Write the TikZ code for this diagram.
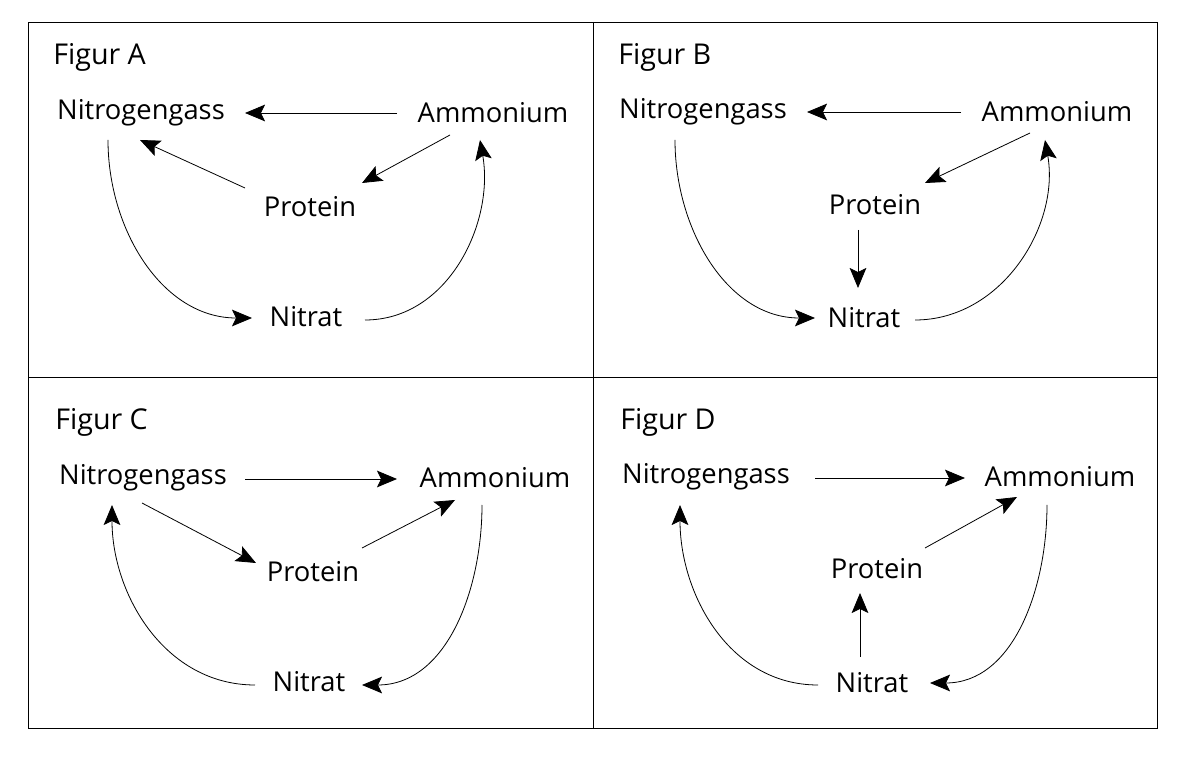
\documentclass[tikz,border=0pt]{standalone}
\usepackage{fontspec}
\setmainfont{Open Sans}
\usetikzlibrary{arrows.meta, calc}

\begin{document}
\begin{tikzpicture}[
    x=0.75pt, y=-0.75pt,
    chem/.style  = {font=\fontsize{20.5}{24}\selectfont, inner sep=0pt},
    title/.style = {font=\fontsize{21.5}{25}\selectfont, anchor=west, inner sep=0pt},
    edge/.style  = {-{Stealth[length=15pt, width=12.5pt, inset=3pt]}, semithick}
  ]
    \useasboundingbox (0,0) rectangle (1183,766);
    \draw (28,22) rectangle (1157,728);
    \draw (593,22) -- (593,728);
    \draw (28,377) -- (1157,377);

    % Figur A
    \node[title] (tA) at (53,57) {Figur A};
    \node[chem] (nA) at (141,113) {Nitrogengass};
    \node[chem] (aA) at (493,113) {Ammonium};
    \node[chem] (pA) at (310,207) {Protein};
    \node[chem] (xA) at (306,317) {Nitrat};
    \draw[edge] ($(aA)+(-96,0)$) -- ($(nA)+(104,0)$);
    \draw[edge] ($(pA)+(-65,-19)$) -- ($(nA)+(-1,27)$);
    \draw[edge] ($(aA)+(-43,22)$) -- ($(pA)+(52,-24)$);
    \draw[edge] ($(nA)+(-33,27)$) to[out=-90, in=180] ($(xA)+(-54,1)$);
    \draw[edge] ($(xA)+(59,3)$) to[out=0, in=-80] ($(aA)+(-13,27)$);

    % Figur B
    \node[title] (tB) at (618,57) {Figur B};
    \node[chem] (nB) at (703,112) {Nitrogengass};
    \node[chem] (aB) at (1057,112) {Ammonium};
    \node[chem] (pB) at (875,205) {Protein};
    \node[chem] (xB) at (864,318) {Nitrat};
    \draw[edge] ($(aB)+(-96,0)$) -- ($(nB)+(104,0)$);
    \draw[edge] ($(aB)+(-27,21)$) -- ($(pB)+(50,-22)$);
    \draw[edge] ($(pB)+(-17,25)$) -- ($(xB)+(-6,-30)$);
    \draw[edge] ($(nB)+(-28,28)$) to[out=-90, in=180] ($(xB)+(-49,0)$);
    \draw[edge] ($(xB)+(51,2)$) to[out=0, in=-80] ($(aB)+(-12,28)$);

    % Figur C
    \node[title] (tC) at (55,422) {Figur C};
    \node[chem] (nC) at (143,478) {Nitrogengass};
    \node[chem] (aC) at (495,478) {Ammonium};
    \node[chem] (pC) at (313,572) {Protein};
    \node[chem] (xC) at (309,682) {Nitrat};
    \draw[edge] ($(nC)+(102,1)$) -- ($(aC)+(-98,1)$);
    \draw[edge] ($(nC)+(-1,25)$) -- ($(pC)+(-57,-9)$);
    \draw[edge] ($(pC)+(49,-24)$) -- ($(aC)+(-40,22)$);
    \draw[edge] ($(aC)+(-13,27)$) to[out=-90, in=0] ($(xC)+(53,3)$);
    \draw[edge] ($(xC)+(-54,3)$) to[out=180, in=-90] ($(nC)+(-31,27)$);

    % Figur D
    \node[title] (tD) at (620,422) {Figur D};
    \node[chem] (nD) at (706,477) {Nitrogengass};
    \node[chem] (aD) at (1060,477) {Ammonium};
    \node[chem] (pD) at (877,569) {Protein};
    \node[chem] (xD) at (872,683) {Nitrat};
    \draw[edge] ($(nD)+(109,1)$) -- ($(aD)+(-95,1)$);
    \draw[edge] ($(pD)+(48,-21)$) -- ($(aD)+(-43,20)$);
    \draw[edge] ($(xD)+(-12,-26)$) -- ($(pD)+(-17,24)$);
    \draw[edge] ($(aD)+(-13,28)$) to[out=-90, in=0] ($(xD)+(58,0)$);
    \draw[edge] ($(xD)+(-54,2)$) to[out=180, in=-90] ($(nD)+(-26,28)$);
\end{tikzpicture}
\end{document}
